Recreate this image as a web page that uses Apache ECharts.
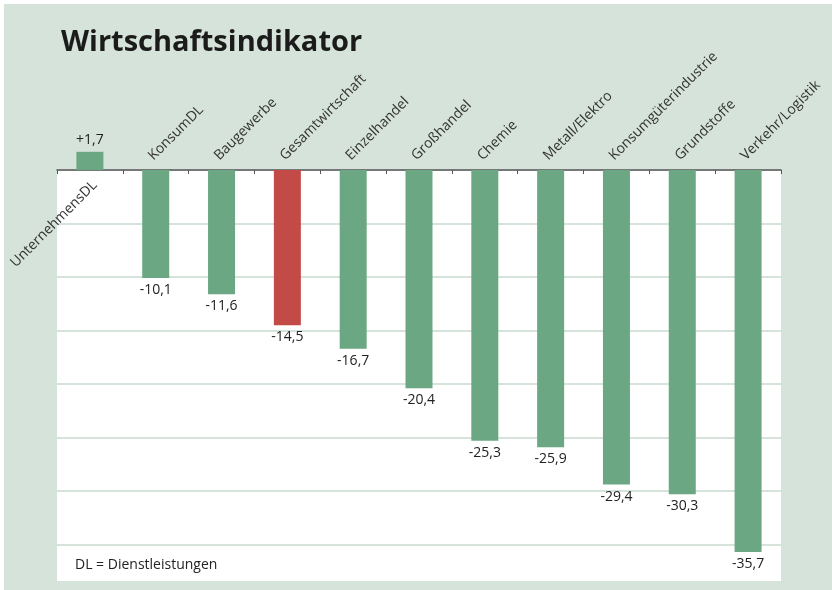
<!DOCTYPE html>
<html>
<head>
<meta charset="utf-8">
<script src="https://cdn.jsdelivr.net/npm/echarts@6/dist/echarts.min.js"></script>
<style>
  html, body { margin: 0; padding: 0; background: #ffffff; }
  #chart { position: absolute; left: 4px; top: 4px; width: 828px; height: 586px; }
</style>
</head>
<body>
<div id="chart"></div>
<script>
// Kategorien (Branchen)
const categories = ['UnternehmensDL', 'KonsumDL', 'Baugewerbe', 'Gesamtwirtschaft', 'Einzelhandel',
  'Großhandel', 'Chemie', 'Metall/Elektro', 'Konsumgüterindustrie', 'Grundstoffe', 'Verkehr/Logistik'];
// Werte
const values = [1.7, -10.1, -11.6, -14.5, -16.7, -20.4, -25.3, -25.9, -29.4, -30.3, -35.7];
// hervorgehobene Kategorie
const highlight = 'Gesamtwirtschaft';
// Wertebereich der y-Achse
const yMin = -38.5;
const yMax = 0;

const green = '#6aa782';
const red = '#c34b47';
const bg = '#d6e3da';

const chart = echarts.init(document.getElementById('chart'));

const fmt = v => (v > 0 ? '+' : '') + v.toFixed(1).replace('.', ',');

const seriesData = values.map((v, i) => ({
    value: v,
    itemStyle: { color: categories[i] === highlight ? red : green },
    label: { position: v >= 0 ? 'top' : 'bottom' }
}));

const option = {
    backgroundColor: bg,
    animation: false,
    textStyle: { fontFamily: 'Open Sans' },
    title: [{
        text: 'Wirtschaftsindikator',
        left: 52,
        top: 19,
        textStyle: { fontSize: 29, fontWeight: 'bold', color: '#1b1b1b', fontFamily: 'Open Sans' }
    }, {
        text: 'DL = Dienstleistungen',
        left: 66,
        top: 549,
        textStyle: { fontSize: 14, fontWeight: 'normal', color: '#222', fontFamily: 'Open Sans' }
    }],
    grid: [{
        // Hauptdiagramm, weiße Fläche unterhalb der Nulllinie
        left: 53, right: 51, top: 166, bottom: 8,
        outerBoundsMode: 'none', containLabel: false,
        show: true, backgroundColor: '#ffffff', borderWidth: 0
    }, {
        // Hilfsraster: Unterkante liegt auf der Nulllinie (Beschriftung nach unten)
        left: 53, right: 51, top: 100, height: 66,
        outerBoundsMode: 'none', containLabel: false,
        show: false
    }],
    xAxis: [{
        type: 'category',
        gridIndex: 0,
        data: categories,
        position: 'top',
        axisLine: { onZero: true, lineStyle: { color: '#555', width: 1.5 } },
        axisTick: { show: true, inside: true, length: 4, lineStyle: { color: '#555' } },
        axisLabel: {
            interval: 0,
            rotate: 45,
            margin: 7,
            fontSize: 14,
            color: '#333',
            verticalAlign: 'bottom',
            formatter: (v, i) => (i === 0 ? '' : v)
        }
    }, {
        type: 'category',
        gridIndex: 1,
        data: categories,
        position: 'bottom',
        axisLine: { show: false, onZero: false },
        axisTick: { show: false },
        axisLabel: {
            interval: 0,
            rotate: 45,
            margin: 8,
            fontSize: 14,
            color: '#333',
            verticalAlign: 'top',
            formatter: (v, i) => (i === 0 ? v : '')
        }
    }],
    yAxis: [{
        type: 'value',
        gridIndex: 0,
        min: yMin,
        max: yMax,
        splitNumber: 8,
        axisLine: { show: false },
        axisTick: { show: false },
        axisLabel: { show: false },
        splitLine: { lineStyle: { color: bg, width: 2 } }
    }, {
        type: 'value',
        gridIndex: 1,
        min: 0,
        max: 1,
        axisLine: { show: false },
        axisTick: { show: false },
        axisLabel: { show: false },
        splitLine: { show: false }
    }],
    series: [{
        type: 'bar',
        xAxisIndex: 0,
        yAxisIndex: 0,
        data: seriesData,
        barWidth: 27,
        clip: false,
        label: {
            show: true,
            distance: 5,
            fontSize: 14,
            color: '#222',
            formatter: p => fmt(p.value)
        }
    }]
};

chart.setOption(option);
</script>
</body>
</html>
